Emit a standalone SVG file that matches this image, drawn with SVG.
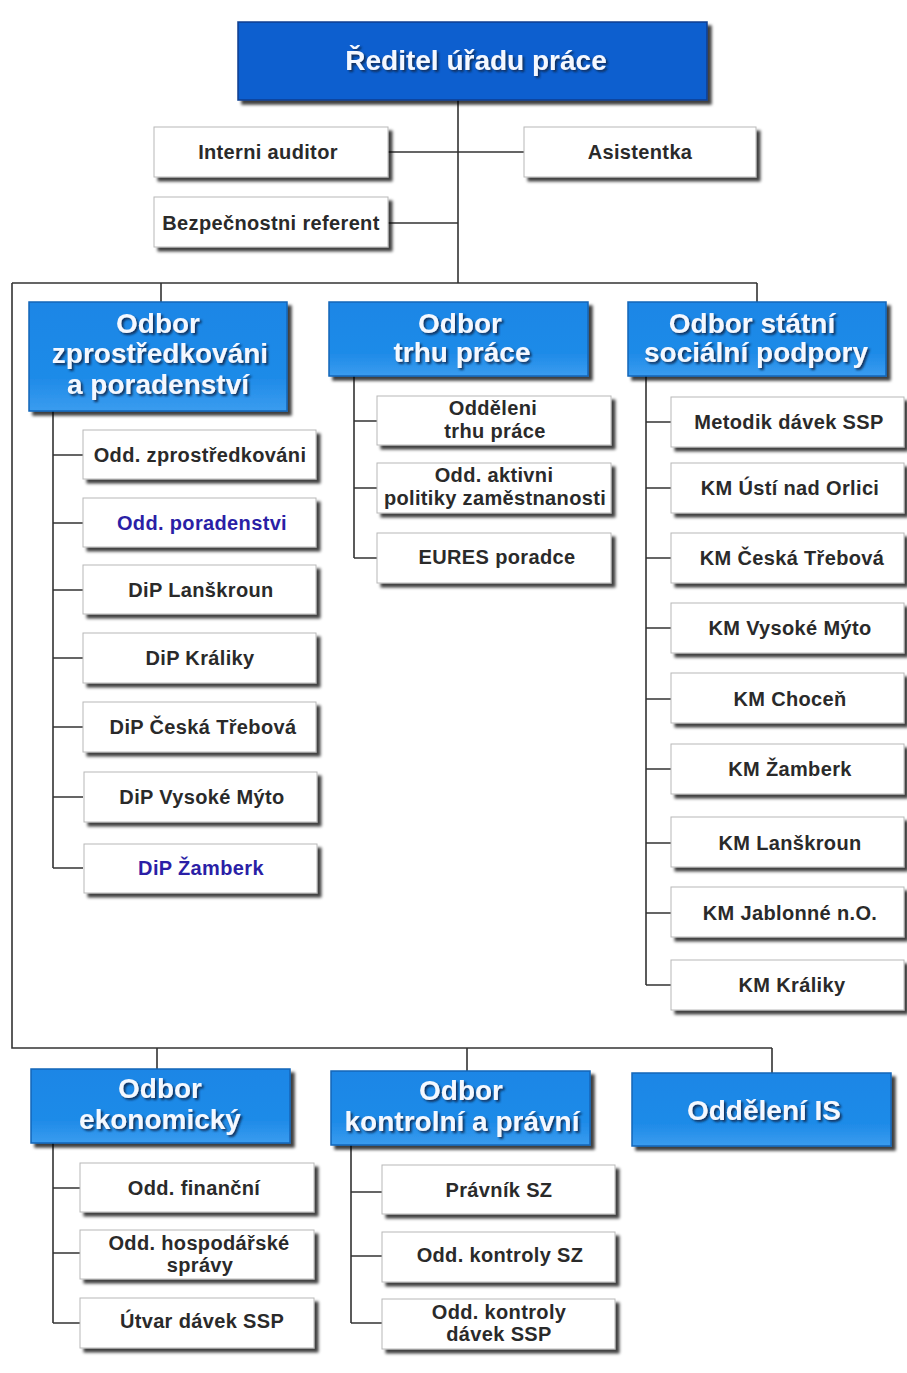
<svg xmlns="http://www.w3.org/2000/svg" width="907" height="1373" viewBox="0 0 907 1373">
<defs>
<filter id="sh" x="-10%" y="-20%" width="130%" height="150%"><feDropShadow dx="4" dy="4" stdDeviation="1.6" flood-color="#000" flood-opacity="0.75"/></filter>
<filter id="ts" x="-10%" y="-30%" width="130%" height="160%"><feDropShadow dx="2" dy="2" stdDeviation="1.2" flood-color="#0a2550" flood-opacity="0.9"/></filter>
<linearGradient id="hg" x1="0" y1="0" x2="0" y2="1"><stop offset="0" stop-color="#1c86e6"/><stop offset="0.7" stop-color="#1f8be8"/><stop offset="1" stop-color="#3a9cef"/></linearGradient>
</defs>
<style>
.top{fill:#0b5ecf;stroke:#0a3d8f;stroke-width:1.5}
.hd{fill:url(#hg);stroke:#1565b8;stroke-width:1.5}
.bx{fill:#fff;stroke:#b8b8b8;stroke-width:1}
.ht{font-family:"Liberation Sans",Arial,sans-serif;font-weight:bold;font-size:28px;fill:#f4f8ff;text-anchor:middle}
.t{font-family:"Liberation Sans",Arial,sans-serif;font-weight:bold;font-size:20px;letter-spacing:0.35px;fill:#2a2a2a;text-anchor:middle}
.bl{fill:#2b1fa6}
.c{stroke:#333;stroke-width:1.6;fill:none}
</style>
<rect width="907" height="1373" fill="#fff"/>
<g id="connectors">
<path class="c" d="M458 100V283M388 152H524M388 223H458M12 283H757M161 283V303M757 283V303M12 283V1048H772M157 1048V1069M467 1048V1071M772 1048V1073"/>
<path class="c" d="M53 411V868M53 455H83M53 523H83M53 590H83M53 658H83M53 727H83M53 797H83M53 868H83"/>
<path class="c" d="M354 376V558M354 421H377M354 488H377M354 558H377"/>
<path class="c" d="M646 376V985M646 422H671M646 488H671M646 558H671M646 628H671M646 699H671M646 769H671M646 843H671M646 913H671M646 985H671"/>
<path class="c" d="M53 1143V1323M53 1188H80M53 1253H80M53 1323H80"/>
<path class="c" d="M351 1145V1323M351 1192H382M351 1256H382M351 1323H382"/>
</g>
<g id="reditel"><rect class="top" x="238" y="22" width="469" height="78" filter="url(#sh)"/><text class="ht" x="476" y="70" filter="url(#ts)">Ředitel úřadu práce</text></g>
<g id="auditor"><rect class="bx" x="154" y="127" width="234" height="50" filter="url(#sh)"/><text class="t" x="268" y="159">Interni auditor</text></g>
<g id="asistentka"><rect class="bx" x="524" y="127" width="232" height="50" filter="url(#sh)"/><text class="t" x="640" y="159">Asistentka</text></g>
<g id="bezpecnost"><rect class="bx" x="154" y="197" width="234" height="50" filter="url(#sh)"/><text class="t" x="271" y="230">Bezpečnostni referent</text></g>

<g id="odbor-zpr"><rect class="hd" x="29" y="302" width="258" height="109" filter="url(#sh)"/><text class="ht" x="158" y="333" filter="url(#ts)">Odbor</text><text class="ht" x="160" y="363" filter="url(#ts)">zprostředkováni</text><text class="ht" x="158" y="394" filter="url(#ts)">a poradenství</text></g>
<g id="odbor-trh"><rect class="hd" x="329" y="302" width="259" height="74" filter="url(#sh)"/><text class="ht" x="460" y="333" filter="url(#ts)">Odbor</text><text class="ht" x="462" y="362" filter="url(#ts)">trhu práce</text></g>
<g id="odbor-ssp"><rect class="hd" x="628" y="302" width="258" height="74" filter="url(#sh)"/><text class="ht" x="752" y="333" filter="url(#ts)">Odbor státní</text><text class="ht" x="756" y="362" filter="url(#ts)">sociální podpory</text></g>

<g id="z1"><rect class="bx" x="83" y="430" width="233" height="49" filter="url(#sh)"/><text class="t" x="200" y="462">Odd. zprostředkováni</text></g>
<g id="z2"><rect class="bx" x="83" y="498" width="233" height="49" filter="url(#sh)"/><text class="t bl" x="202" y="530">Odd. poradenstvi</text></g>
<g id="z3"><rect class="bx" x="83" y="565" width="233" height="49" filter="url(#sh)"/><text class="t" x="201" y="597">DiP Lanškroun</text></g>
<g id="z4"><rect class="bx" x="83" y="633" width="233" height="50" filter="url(#sh)"/><text class="t" x="200" y="665">DiP Králiky</text></g>
<g id="z5"><rect class="bx" x="83" y="702" width="233" height="50" filter="url(#sh)"/><text class="t" x="203" y="734">DiP Česká Třebová</text></g>
<g id="z6"><rect class="bx" x="84" y="772" width="233" height="50" filter="url(#sh)"/><text class="t" x="202" y="804">DiP Vysoké Mýto</text></g>
<g id="z7"><rect class="bx" x="84" y="844" width="233" height="49" filter="url(#sh)"/><text class="t bl" x="201" y="875">DiP Žamberk</text></g>

<g id="t1"><rect class="bx" x="377" y="396" width="234" height="49" filter="url(#sh)"/><text class="t" x="493" y="415">Odděleni</text><text class="t" x="495" y="438">trhu práce</text></g>
<g id="t2"><rect class="bx" x="377" y="463" width="234" height="50" filter="url(#sh)"/><text class="t" x="494" y="482">Odd. aktivni</text><text class="t" x="495" y="505">politiky zaměstnanosti</text></g>
<g id="t3"><rect class="bx" x="377" y="533" width="234" height="50" filter="url(#sh)"/><text class="t" x="497" y="564">EURES poradce</text></g>

<g id="s1"><rect class="bx" x="671" y="397" width="233" height="50" filter="url(#sh)"/><text class="t" x="789" y="429">Metodik dávek SSP</text></g>
<g id="s2"><rect class="bx" x="671" y="463" width="233" height="50" filter="url(#sh)"/><text class="t" x="790" y="495">KM Ústí nad Orlici</text></g>
<g id="s3"><rect class="bx" x="671" y="533" width="233" height="50" filter="url(#sh)"/><text class="t" x="792" y="565">KM Česká Třebová</text></g>
<g id="s4"><rect class="bx" x="671" y="603" width="233" height="50" filter="url(#sh)"/><text class="t" x="790" y="635">KM Vysoké Mýto</text></g>
<g id="s5"><rect class="bx" x="671" y="673" width="233" height="50" filter="url(#sh)"/><text class="t" x="790" y="706">KM Choceň</text></g>
<g id="s6"><rect class="bx" x="671" y="744" width="233" height="50" filter="url(#sh)"/><text class="t" x="790" y="776">KM Žamberk</text></g>
<g id="s7"><rect class="bx" x="671" y="817" width="233" height="50" filter="url(#sh)"/><text class="t" x="790" y="850">KM Lanškroun</text></g>
<g id="s8"><rect class="bx" x="671" y="887" width="233" height="50" filter="url(#sh)"/><text class="t" x="790" y="920">KM Jablonné n.O.</text></g>
<g id="s9"><rect class="bx" x="671" y="960" width="233" height="50" filter="url(#sh)"/><text class="t" x="792" y="992">KM Králiky</text></g>

<g id="odbor-eko"><rect class="hd" x="31" y="1069" width="259" height="74" filter="url(#sh)"/><text class="ht" x="160" y="1098" filter="url(#ts)">Odbor</text><text class="ht" x="160" y="1129" filter="url(#ts)">ekonomický</text></g>
<g id="odbor-kp"><rect class="hd" x="331" y="1071" width="259" height="74" filter="url(#sh)"/><text class="ht" x="461" y="1100" filter="url(#ts)">Odbor</text><text class="ht" x="462" y="1131" filter="url(#ts)">kontrolní a právní</text></g>
<g id="odd-is"><rect class="hd" x="632" y="1073" width="259" height="73" filter="url(#sh)"/><text class="ht" x="764" y="1120" filter="url(#ts)">Oddělení IS</text></g>

<g id="e1"><rect class="bx" x="80" y="1163" width="234" height="49" filter="url(#sh)"/><text class="t" x="194" y="1195">Odd. finanční</text></g>
<g id="e2"><rect class="bx" x="80" y="1230" width="234" height="49" filter="url(#sh)"/><text class="t" x="199" y="1250">Odd. hospodářské</text><text class="t" x="200" y="1272">správy</text></g>
<g id="e3"><rect class="bx" x="80" y="1298" width="234" height="50" filter="url(#sh)"/><text class="t" x="202" y="1328">Útvar dávek SSP</text></g>

<g id="k1"><rect class="bx" x="382" y="1165" width="233" height="49" filter="url(#sh)"/><text class="t" x="499" y="1197">Právník SZ</text></g>
<g id="k2"><rect class="bx" x="382" y="1232" width="233" height="50" filter="url(#sh)"/><text class="t" x="500" y="1262">Odd. kontroly SZ</text></g>
<g id="k3"><rect class="bx" x="382" y="1299" width="233" height="50" filter="url(#sh)"/><text class="t" x="499" y="1319">Odd. kontroly</text><text class="t" x="499" y="1341">dávek SSP</text></g>
</svg>
